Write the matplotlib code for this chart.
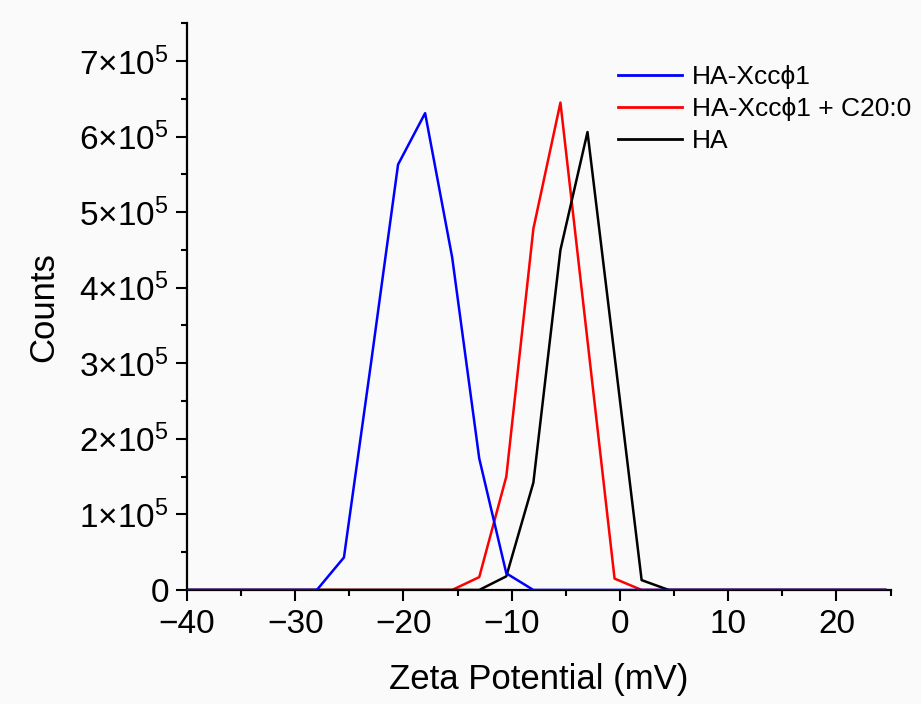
import numpy as np
import matplotlib
matplotlib.use("Agg")
import matplotlib.pyplot as plt
from matplotlib.ticker import MultipleLocator, FuncFormatter

plt.rcParams['font.family'] = ['Liberation Sans', 'DejaVu Sans']
plt.rcParams['mathtext.fontset'] = 'custom'
plt.rcParams['mathtext.rm'] = 'Liberation Sans'

# zeta potential (mV) and counts
zeta_blue = [-40.5, -30.5, -28.0, -25.5, -23.0, -20.5, -18.0, -15.5, -13.0, -10.5, -8.0, 24.5]
counts_blue = [0, 0, 0, 0.43e5, 3.0e5, 5.63e5, 6.31e5, 4.40e5, 1.74e5, 0.22e5, 0, 0]

zeta_red = [-40.5, -15.5, -13.0, -10.5, -8.0, -5.5, -3.0, -0.5, 2.0, 24.5]
counts_red = [0, 0, 0.17e5, 1.50e5, 4.78e5, 6.45e5, 3.3e5, 0.15e5, 0, 0]

zeta_black = [-40.5, -13.0, -10.5, -8.0, -5.5, -3.0, -0.5, 2.0, 4.5, 24.5]
counts_black = [0, 0, 0.18e5, 1.42e5, 4.50e5, 6.06e5, 3.1e5, 0.13e5, 0, 0]

labels = ['HA-Xccϕ1', 'HA-Xccϕ1 + C20:0', 'HA']

fig = plt.figure(figsize=(9.21, 7.04), dpi=100, facecolor='#fafafa')
ax = fig.add_axes([0.203, 0.162, 0.764, 0.805])
ax.set_facecolor('#fafafa')

# blue sits on top along the baseline
ax.plot(zeta_blue, counts_blue, color='#0000ff', lw=1.8, label=labels[0], zorder=4)
ax.plot(zeta_red, counts_red, color='#ff0000', lw=1.8, label=labels[1], zorder=2)
ax.plot(zeta_black, counts_black, color='black', lw=1.8, label=labels[2], zorder=3)

ax.set_xlim(-40, 25)
ax.set_ylim(0, 7.5e5)

for s in ['top', 'right']:
    ax.spines[s].set_visible(False)
for s in ['left', 'bottom']:
    ax.spines[s].set_linewidth(1.6)

ax.xaxis.set_major_locator(MultipleLocator(10))
ax.xaxis.set_minor_locator(MultipleLocator(5))
ax.yaxis.set_major_locator(MultipleLocator(1e5))
ax.yaxis.set_minor_locator(MultipleLocator(0.5e5))

def ylab(v, pos):
    n = int(round(v / 1e5))
    if n == 0:
        return '0'
    return r'$\mathregular{%d{\times}10^5}$' % n

def xlab(v, pos):
    return '%d' % v if v >= 0 else '\u2212%d' % abs(v)

ax.yaxis.set_major_formatter(FuncFormatter(ylab))
ax.xaxis.set_major_formatter(FuncFormatter(xlab))

ax.tick_params(which='major', length=8, width=1.5, labelsize=24, pad=5)
ax.tick_params(which='minor', length=4.5, width=1.5)
ax.tick_params(axis='x', which='major', pad=6)

ax.set_xlabel('Zeta Potential (mV)', fontsize=25, labelpad=16)
ax.set_ylabel('Counts', fontsize=25, labelpad=14)

leg = ax.legend(loc='upper left', bbox_to_anchor=(0.660, 0.922), bbox_transform=fig.transFigure,
                frameon=False, fontsize=19, handlelength=2.4, handletextpad=0.4,
                labelspacing=0.3, borderaxespad=0)
for h in leg.get_lines():
    h.set_linewidth(2.0)

fig.savefig('out.png', dpi=100, facecolor=fig.get_facecolor())
